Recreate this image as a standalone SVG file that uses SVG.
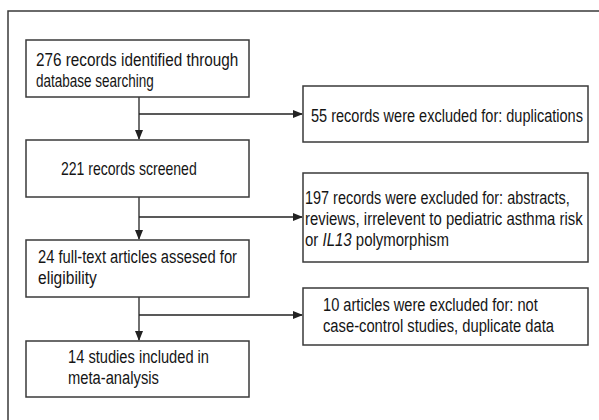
<svg xmlns="http://www.w3.org/2000/svg" width="599" height="420" viewBox="0 0 599 420">
<style>
.frame{fill:none;stroke:#3a3a3a;stroke-width:1.5}
.box{fill:#fff;stroke:#3a3a3a;stroke-width:1.5}
.lbl{font-family:"Liberation Sans",Arial,sans-serif;font-size:18.5px;fill:#151515}
.conn{fill:none;stroke:#222;stroke-width:1.3}
</style>
<defs>
<marker id="ah" markerWidth="10" markerHeight="8" refX="9" refY="4" orient="auto" markerUnits="userSpaceOnUse">
<path d="M0,0 L10,4 L0,8 Z" fill="#222"/>
</marker>
</defs>
<rect width="599" height="420" fill="#fff"/>
<path class="frame" d="M8,421 V11 H600"/>
<g id="connectors">
<path class="conn" d="M139,97 V139" marker-end="url(#ah)"/>
<path class="conn" d="M139,114 H302" marker-end="url(#ah)"/>
<path class="conn" d="M139,197 V239" marker-end="url(#ah)"/>
<path class="conn" d="M139,217 H302" marker-end="url(#ah)"/>
<path class="conn" d="M139,297 V340" marker-end="url(#ah)"/>
<path class="conn" d="M139,315 H302" marker-end="url(#ah)"/>
</g>
<g id="n1">
<rect class="box" x="26" y="40" width="223" height="57"/>
<text class="lbl" transform="translate(36,65.5) scale(0.827,1)">276 records identified through</text>
<text class="lbl" transform="translate(36,86.9) scale(0.73,1)">database searching</text>
</g>
<g id="n2">
<rect class="box" x="26" y="140" width="223" height="57"/>
<text class="lbl" transform="translate(61,175) scale(0.759,1)">221 records screened</text>
</g>
<g id="n3">
<rect class="box" x="26" y="240" width="223" height="57"/>
<text class="lbl" transform="translate(38,262.5) scale(0.797,1)">24 full-text articles assesed for</text>
<text class="lbl" transform="translate(38,283.9) scale(0.843,1)">eligibility</text>
</g>
<g id="n4">
<rect class="box" x="26" y="341" width="223" height="56"/>
<text class="lbl" transform="translate(68,362.5) scale(0.793,1)">14 studies included in</text>
<text class="lbl" transform="translate(68,383.9) scale(0.797,1)">meta-analysis</text>
</g>
<g id="e1">
<rect class="box" x="303" y="86" width="285" height="56"/>
<text class="lbl" transform="translate(311,122) scale(0.785,1)">55 records were excluded for: duplications</text>
</g>
<g id="e2">
<rect class="box" x="303" y="173" width="285" height="89"/>
<text class="lbl" transform="translate(305,203.5) scale(0.781,1)">197 records were excluded for: abstracts,</text>
<text class="lbl" transform="translate(305,224.9) scale(0.807,1)">reviews, irrelevent to pediatric asthma risk</text>
<text class="lbl" transform="translate(305,246.3) scale(0.81,1)">or <tspan font-style="italic">IL13</tspan> polymorphism</text>
</g>
<g id="e3">
<rect class="box" x="303" y="288" width="285" height="57"/>
<text class="lbl" transform="translate(323,311) scale(0.792,1)">10 articles were excluded for: not</text>
<text class="lbl" transform="translate(323,332.4) scale(0.797,1)">case-control studies, duplicate data</text>
</g>
</svg>
